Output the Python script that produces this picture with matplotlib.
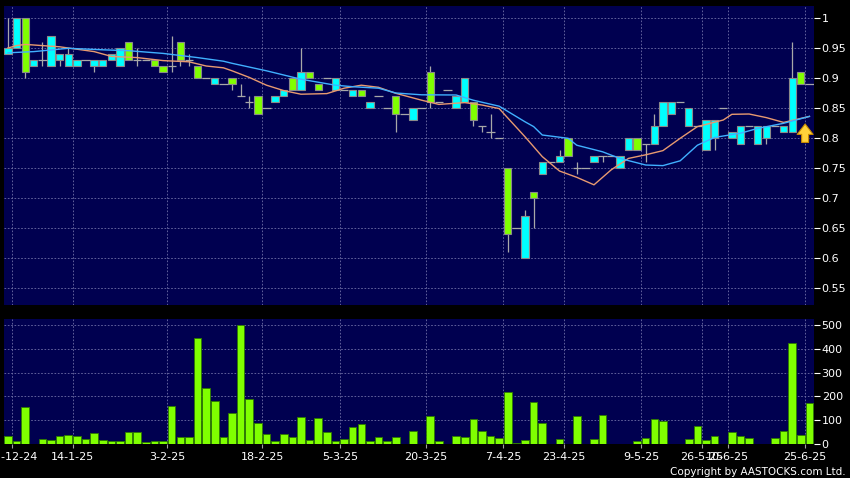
import matplotlib
matplotlib.use('Agg')
import matplotlib.pyplot as plt
import numpy as np

#%% data (one entry per trading bar)
opens = [0.94, 0.95, 1.00, 0.92, 0.93, 0.92, 0.93, 0.92, 0.92, 0.93,
         0.92, 0.92, 0.93, 0.92, 0.96, 0.93, 0.93, 0.93, 0.92, 0.92,
         0.96, 0.93, 0.92, 0.90, 0.89, 0.89, 0.90, 0.87, 0.86, 0.87,
         0.85, 0.86, 0.87, 0.90, 0.88, 0.91, 0.89, 0.90, 0.88, 0.88,
         0.87, 0.88, 0.85, 0.87, 0.85, 0.87, 0.84, 0.83, 0.85, 0.91,
         0.86, 0.88, 0.85, 0.86, 0.86, 0.82, 0.81, 0.80, 0.75, 0.65,
         0.60, 0.71, 0.74, 0.76, 0.76, 0.80, 0.75, 0.75, 0.76, 0.77,
         0.77, 0.75, 0.78, 0.80, 0.79, 0.79, 0.82, 0.84, 0.86, 0.82,
         0.82, 0.78, 0.80, 0.85, 0.80, 0.79, 0.82, 0.79, 0.80, 0.82,
         0.81, 0.81, 0.91, 0.89]
highs = [1.00, 1.00, 1.00, 0.93, 0.96, 0.97, 0.94, 0.95, 0.93, 0.93,
         0.93, 0.93, 0.94, 0.95, 0.96, 0.95, 0.93, 0.93, 0.92, 0.97,
         0.96, 0.94, 0.92, 0.90, 0.90, 0.89, 0.90, 0.89, 0.87, 0.87,
         0.85, 0.87, 0.88, 0.90, 0.95, 0.91, 0.89, 0.90, 0.90, 0.88,
         0.88, 0.88, 0.86, 0.87, 0.85, 0.87, 0.84, 0.85, 0.85, 0.92,
         0.86, 0.88, 0.87, 0.90, 0.86, 0.82, 0.84, 0.80, 0.75, 0.65,
         0.68, 0.71, 0.76, 0.76, 0.78, 0.80, 0.76, 0.75, 0.77, 0.77,
         0.77, 0.77, 0.80, 0.80, 0.79, 0.84, 0.86, 0.86, 0.86, 0.85,
         0.82, 0.83, 0.83, 0.85, 0.81, 0.82, 0.82, 0.82, 0.82, 0.82,
         0.82, 0.96, 0.91, 0.89]
lows = [0.94, 0.95, 0.90, 0.92, 0.92, 0.92, 0.92, 0.92, 0.92, 0.93,
        0.91, 0.92, 0.93, 0.92, 0.93, 0.92, 0.93, 0.92, 0.91, 0.91,
        0.92, 0.92, 0.90, 0.90, 0.89, 0.89, 0.88, 0.87, 0.85, 0.84,
        0.85, 0.86, 0.87, 0.88, 0.88, 0.90, 0.88, 0.90, 0.88, 0.88,
        0.87, 0.87, 0.85, 0.87, 0.85, 0.81, 0.84, 0.83, 0.85, 0.85,
        0.86, 0.88, 0.85, 0.86, 0.82, 0.81, 0.80, 0.80, 0.61, 0.65,
        0.60, 0.65, 0.74, 0.76, 0.76, 0.77, 0.74, 0.75, 0.76, 0.76,
        0.77, 0.75, 0.78, 0.78, 0.76, 0.79, 0.82, 0.84, 0.86, 0.82,
        0.82, 0.78, 0.78, 0.85, 0.80, 0.79, 0.82, 0.79, 0.79, 0.82,
        0.81, 0.81, 0.89, 0.89]
closes = [0.95, 1.00, 0.91, 0.93, 0.93, 0.97, 0.94, 0.94, 0.93, 0.93,
          0.93, 0.93, 0.94, 0.95, 0.93, 0.93, 0.93, 0.92, 0.91, 0.92,
          0.93, 0.93, 0.90, 0.90, 0.90, 0.89, 0.89, 0.87, 0.86, 0.84,
          0.85, 0.87, 0.88, 0.88, 0.91, 0.90, 0.88, 0.90, 0.90, 0.88,
          0.88, 0.87, 0.86, 0.87, 0.85, 0.84, 0.84, 0.85, 0.85, 0.86,
          0.86, 0.88, 0.87, 0.90, 0.83, 0.82, 0.81, 0.80, 0.64, 0.65,
          0.67, 0.70, 0.76, 0.76, 0.77, 0.77, 0.75, 0.75, 0.77, 0.77,
          0.77, 0.77, 0.80, 0.78, 0.79, 0.82, 0.86, 0.86, 0.86, 0.85,
          0.82, 0.83, 0.83, 0.85, 0.81, 0.82, 0.82, 0.82, 0.82, 0.82,
          0.82, 0.90, 0.89, 0.89]
volume = [32, 13, 155, 0, 21, 18, 34, 38, 34, 22,
          48, 15, 11, 11, 52, 50, 10, 13, 14, 158,
          28, 31, 445, 235, 181, 31, 129, 498, 190, 90,
          42, 13, 42, 29, 115, 15, 109, 52, 11, 21,
          73, 83, 13, 28, 13, 31, 0, 55, 0, 118,
          13, 0, 34, 29, 104, 53, 34, 27, 217, 3,
          17, 175, 88, 0, 21, 0, 118, 0, 21, 123,
          0, 2, 0, 11, 24, 104, 97, 2, 2, 22,
          74, 15, 32, 0, 52, 35, 25, 0, 0, 24,
          53, 426, 38, 171]

# moving averages, sampled along the two lines
ma_short_x = [0, 1, 2, 6, 10, 12, 15, 18, 21, 23, 25, 26, 28, 30, 32, 34, 37,
              39, 41, 43, 45, 48, 50, 53, 55, 57, 60, 62, 64, 66, 68, 70, 72,
              74, 76, 78, 80, 83, 84, 86, 88, 90, 93]
ma_short = [0.950, 0.954, 0.956, 0.952, 0.944, 0.936, 0.934, 0.929, 0.927,
            0.920, 0.917, 0.912, 0.901, 0.888, 0.879, 0.873, 0.874, 0.883,
            0.888, 0.8845, 0.8745, 0.863, 0.856, 0.859, 0.855, 0.849, 0.802,
            0.769, 0.745, 0.7345, 0.722, 0.747, 0.766, 0.772, 0.779, 0.7995,
            0.819, 0.830, 0.8395, 0.840, 0.834, 0.826, 0.836]
ma_long_x = [0, 3, 7, 11, 14, 18, 22, 25, 26, 30, 34, 38, 40, 43, 45, 48, 52,
             54, 57, 60, 61, 62, 65, 66, 69, 71, 74, 76, 78, 80, 82, 85, 87,
             90, 93]
ma_long = [0.942, 0.944, 0.9495, 0.947, 0.9455, 0.941, 0.934, 0.928, 0.9245,
           0.912, 0.898, 0.888, 0.8855, 0.883, 0.875, 0.872, 0.8717, 0.863,
           0.853, 0.827, 0.819, 0.805, 0.7995, 0.788, 0.777, 0.766, 0.755,
           0.754, 0.762, 0.788, 0.801, 0.808, 0.816, 0.8245, 0.836]

tick_idx = [1, 8, 19, 30, 39, 49, 58, 65, 74, 81, 84, 93]
tick_labels = ['31-12-24', '14-1-25', '3-2-25', '18-2-25', '5-3-25', '20-3-25',
               '7-4-25', '23-4-25', '9-5-25', '26-5-25', '10-6-25', '25-6-25']

#%%
navy = '#000050'
up_col = '#00FFFF'
down_col = '#80FF00'
grid_kw = dict(color='#7070A8', linestyle=(0, (2, 2)), linewidth=0.6)

fig = plt.figure(figsize=(8.5, 4.78), dpi=100, facecolor='black')
ax1 = fig.add_axes([4/850, 1 - 305/478, 810/850, 299/478], facecolor=navy)
ax2 = fig.add_axes([4/850, 1 - 444/478, 810/850, 125/478], facecolor=navy, sharex=ax1)

x = np.arange(len(opens))
o = np.array(opens); c = np.array(closes)
h = np.array(highs); l = np.array(lows)

ax1.vlines(x, l, h, color='#A8A8A8', linewidth=0.9, zorder=2)
body = c != o
cols = np.where(c > o, up_col, down_col)
ax1.bar(x[body], np.abs(c - o)[body], bottom=np.minimum(o, c)[body], width=0.85,
        color=cols[body], edgecolor='#8A8A8A', linewidth=0.8, zorder=3)
ax1.hlines(o[~body], x[~body] - 0.48, x[~body] + 0.48, color='#A8A8A8',
           linewidth=0.9, zorder=3)

ax1.plot(ma_short_x, ma_short, color='#E89A70', linewidth=1.0, zorder=4)
ax1.plot(ma_long_x, ma_long, color='#40B0FF', linewidth=1.0, zorder=4)

# the yellow arrow next to the last bar
ax1.annotate('', xy=(len(x) - 1.5, closes[-1] - 0.062), xytext=(len(x) - 1.5, closes[-1] - 0.102),
             arrowprops=dict(arrowstyle='simple,head_width=1.15,head_length=0.75,tail_width=0.5',
                             fc='#FFD23A', ec='#C88A00', lw=0.8), zorder=5)

ax2.bar(x, volume, width=0.88, color=down_col, edgecolor='#2E7A00', linewidth=0.6, zorder=3)

ax1.set_xlim(-0.46, 93.53)
ax1.set_ylim(0.5217, 1.02)
ax2.set_ylim(0, 525)

ticks = np.array(tick_idx) - 0.5
for ax in (ax1, ax2):
    for s in ax.spines.values():
        s.set_visible(False)
    ax.set_xticks(ticks)
    ax.grid(True, **grid_kw)
    ax.set_axisbelow(True)
    ax.yaxis.tick_right()
    ax.tick_params(axis='y', colors='white', length=4, width=0.8, pad=1.5, labelsize=8)

ax1.set_yticks(np.arange(0.55, 1.001, 0.05))
ax1.set_yticklabels(['{:g}'.format(round(v, 2)) for v in np.arange(0.55, 1.001, 0.05)])
ax1.tick_params(axis='x', length=0, labelbottom=False)

ax2.set_yticks(np.arange(0, 501, 100))
ax2.set_xticklabels(tick_labels)
ax2.tick_params(axis='x', colors='#A0A0A0', length=3, width=0.8, pad=3, labelsize=8,
                labelcolor='white')

fig.text(846/850, 1 - 472/478, 'Copyright by AASTOCKS.com Ltd.', color='white',
         fontsize=7.5, ha='right', va='center')

fig.savefig('out.png', dpi=100, facecolor='black')
